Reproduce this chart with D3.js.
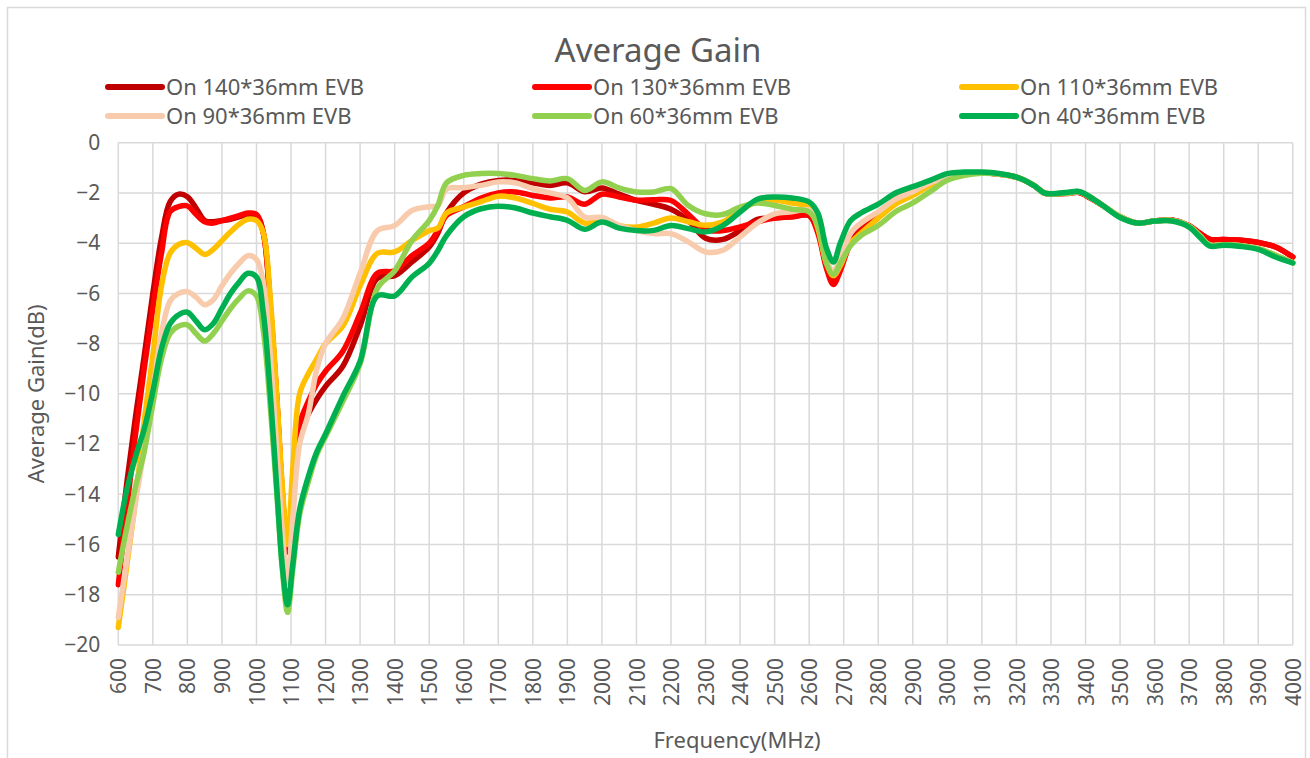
<!DOCTYPE html>
<html>
<head>
<meta charset="utf-8">
<script src="https://cdn.jsdelivr.net/npm/d3@7"></script>
<style>
  body { margin: 0; background: #fff; }
  svg text { font-family: "Noto Sans", "Noto Sans CJK SC", sans-serif; fill: #595959; }
</style>
</head>
<body>
<svg id="chart" width="1310" height="758"></svg>
<script>
// frequencies (MHz) the curves were read at
var freqs = [600, 625, 650, 675, 700, 725, 750, 775, 800, 825, 850, 875, 900, 925, 950, 975,
  1000, 1020, 1040, 1060, 1075, 1090, 1105, 1125, 1150, 1175, 1200, 1250, 1300, 1350, 1400, 1450,
  1500, 1525, 1550, 1600, 1650, 1700, 1750, 1800, 1850, 1900, 1950, 2000, 2050, 2100, 2150, 2200,
  2250, 2300, 2350, 2400, 2450, 2500, 2550, 2600, 2625, 2650, 2670, 2690, 2720, 2750, 2800, 2850,
  2900, 2950, 3000, 3050, 3100, 3150, 3200, 3250, 3280, 3300, 3350, 3380, 3400, 3450, 3500, 3550,
  3600, 3650, 3700, 3730, 3760, 3800, 3850, 3900, 3950, 4000];

var evb140 = [-16.5, -13.5, -10.9, -8.5, -6.0, -3.8, -2.35, -2.05, -2.15, -2.6, -3.1, -3.15, -3.1, -3.05, -2.95, -2.85,
  -2.9, -3.6, -6.5, -10.5, -14.0, -16.3, -14.5, -11.5, -10.8, -10.2, -9.7, -8.9, -7.3, -5.4, -5.3, -4.75,
  -4.15, -3.6, -2.8, -2.0, -1.65, -1.5, -1.5, -1.6, -1.7, -1.6, -1.95, -1.8, -2.05, -2.3, -2.45, -2.65,
  -3.1, -3.8, -3.85, -3.5, -3.05, -3.0, -2.95, -2.9, -3.5, -4.9, -5.5, -5.0, -3.95, -3.45, -2.8, -2.25,
  -1.9, -1.55, -1.38, -1.22, -1.2, -1.25, -1.37, -1.7, -2.0, -2.03, -2.0, -1.97, -2.08, -2.5, -2.95, -3.2,
  -3.12, -3.08, -3.3, -3.6, -3.85, -3.85, -3.88, -3.97, -4.15, -4.55];

var evb130 = [-17.6, -14.5, -11.6, -9.0, -6.6, -4.4, -2.75, -2.55, -2.52, -2.85, -3.15, -3.2, -3.1, -3.0, -2.9, -2.8,
  -2.85, -3.6, -6.5, -10.5, -14.0, -16.2, -14.0, -11.2, -10.3, -9.6, -9.1, -8.3, -6.8, -5.2, -5.1, -4.5,
  -4.0, -3.5, -2.9, -2.55, -2.2, -2.0, -1.96, -2.1, -2.2, -2.16, -2.45, -2.05, -2.16, -2.29, -2.27, -2.3,
  -2.85, -3.45, -3.5, -3.35, -3.15, -3.0, -2.95, -2.9, -3.6, -5.0, -5.65, -5.1, -4.0, -3.5, -2.85, -2.3,
  -1.95, -1.6, -1.38, -1.22, -1.2, -1.25, -1.37, -1.7, -2.0, -2.05, -2.02, -1.98, -2.1, -2.5, -2.95, -3.2,
  -3.12, -3.08, -3.3, -3.6, -3.85, -3.85, -3.88, -3.97, -4.15, -4.55];

var evb110 = [-19.3, -16.8, -14.2, -11.1, -8.5, -5.7, -4.4, -4.05, -3.98, -4.2, -4.45, -4.25, -3.9, -3.55, -3.25, -3.05,
  -3.1, -3.6, -6.2, -10.3, -13.7, -16.0, -13.0, -10.0, -9.2, -8.6, -8.0, -7.3, -5.7, -4.4, -4.35, -3.9,
  -3.5, -3.4, -2.8, -2.56, -2.35, -2.13, -2.2, -2.42, -2.65, -2.76, -3.2, -3.09, -3.3, -3.36, -3.2, -3.0,
  -3.15, -3.29, -3.15, -2.69, -2.35, -2.29, -2.4, -2.56, -3.4, -4.8, -5.3, -4.9, -4.0, -3.6, -3.0, -2.45,
  -2.1, -1.7, -1.42, -1.24, -1.2, -1.25, -1.37, -1.7, -2.0, -2.03, -2.0, -1.95, -2.06, -2.5, -2.95, -3.2,
  -3.12, -3.1, -3.33, -3.7, -4.08, -4.06, -4.1, -4.22, -4.48, -4.78];

var evb90 = [-18.9, -16.6, -14.3, -12.2, -9.9, -7.6, -6.3, -6.0, -5.93, -6.15, -6.45, -6.25, -5.7, -5.2, -4.8, -4.5,
  -4.65, -5.6, -8.5, -12.5, -15.5, -17.5, -15.0, -12.0, -10.8, -9.0, -8.0, -7.0, -5.2, -3.5, -3.3, -2.7,
  -2.55, -2.5, -1.85, -1.79, -1.7, -1.56, -1.6, -1.83, -2.0, -2.2, -2.96, -2.98, -3.29, -3.5, -3.62, -3.62,
  -3.95, -4.35, -4.28, -3.75, -3.2, -2.83, -2.75, -2.69, -3.3, -4.7, -5.1, -4.6, -3.6, -3.2, -2.75, -2.25,
  -1.95, -1.6, -1.4, -1.23, -1.2, -1.25, -1.37, -1.7, -2.0, -2.03, -2.0, -1.95, -2.06, -2.5, -2.95, -3.2,
  -3.12, -3.1, -3.33, -3.7, -4.08, -4.06, -4.1, -4.22, -4.48, -4.78];

var evb60 = [-17.1, -15.3, -13.7, -12.3, -10.4, -8.6, -7.6, -7.3, -7.25, -7.6, -7.9, -7.6, -7.1, -6.6, -6.2, -5.9,
  -6.1, -7.5, -10.5, -14.2, -17.0, -18.7, -17.0, -14.8, -13.5, -12.4, -11.7, -10.3, -8.8, -5.8, -5.1, -3.9,
  -3.1, -2.5, -1.6, -1.3, -1.23, -1.23, -1.3, -1.43, -1.52, -1.43, -1.9, -1.56, -1.8, -1.96, -1.96, -1.83,
  -2.5, -2.83, -2.86, -2.56, -2.4, -2.5, -2.65, -2.76, -3.3, -4.8, -5.25, -4.8, -4.1, -3.7, -3.3, -2.75,
  -2.4, -1.95, -1.5, -1.3, -1.22, -1.25, -1.37, -1.7, -2.0, -2.03, -2.0, -1.95, -2.06, -2.5, -2.95, -3.2,
  -3.12, -3.1, -3.33, -3.7, -4.08, -4.06, -4.1, -4.22, -4.48, -4.78];

var evb40 = [-15.6, -13.8, -12.5, -11.4, -9.9, -8.2, -7.2, -6.85, -6.75, -7.1, -7.45, -7.2, -6.6, -6.0, -5.55, -5.2,
  -5.35, -6.8, -10.0, -14.0, -16.9, -18.4, -16.8, -14.6, -13.3, -12.3, -11.6, -10.1, -8.7, -6.1, -6.1, -5.35,
  -4.8, -4.3, -3.7, -2.95, -2.63, -2.53, -2.6, -2.8, -2.95, -3.09, -3.45, -3.16, -3.4, -3.5, -3.49, -3.3,
  -3.42, -3.55, -3.3, -2.76, -2.25, -2.16, -2.2, -2.36, -2.8, -4.2, -4.75, -4.0, -3.1, -2.8, -2.45, -2.0,
  -1.75, -1.5, -1.23, -1.17, -1.17, -1.23, -1.37, -1.7, -2.0, -2.03, -1.97, -1.94, -2.05, -2.5, -2.98, -3.2,
  -3.12, -3.12, -3.36, -3.75, -4.12, -4.08, -4.13, -4.25, -4.55, -4.79];

var seriesNames = ["On 140*36mm EVB", "On 130*36mm EVB", "On 110*36mm EVB",
  "On 90*36mm EVB", "On 60*36mm EVB", "On 40*36mm EVB"];
var seriesValues = [evb140, evb130, evb110, evb90, evb60, evb40];
var seriesColors = ["#C00000", "#FF0000", "#FFC000", "#F8CBAD", "#92D050", "#00B050"];

var xTicks = d3.range(600, 4001, 100);
var yTicks = d3.range(0, -21, -2);

var svg = d3.select("#chart");

// outer chart frame
svg.append("rect")
  .attr("x", 7.5).attr("y", 7.5)
  .attr("width", 1298).attr("height", 770)
  .attr("fill", "none")
  .attr("stroke", "#d9d9d9")
  .attr("stroke-width", 1.5);

var plotLeft = 118.3, plotRight = 1292.8, plotTop = 142.7, plotBottom = 645;

var x = d3.scaleLinear().domain([600, 4000]).range([plotLeft, plotRight]);
var y = d3.scaleLinear().domain([-20, 0]).range([plotBottom, plotTop]);

// grid
svg.append("g").selectAll("line")
  .data(xTicks)
  .enter()
  .append("line")
  .attr("x1", d => x(d)).attr("x2", d => x(d))
  .attr("y1", plotTop).attr("y2", plotBottom)
  .attr("stroke", "#d9d9d9")
  .attr("stroke-width", 1.5);

svg.append("g").selectAll("line")
  .data(yTicks)
  .enter()
  .append("line")
  .attr("x1", plotLeft).attr("x2", plotRight)
  .attr("y1", d => y(d)).attr("y2", d => y(d))
  .attr("stroke", "#d9d9d9")
  .attr("stroke-width", 1.5);

// axes (labels only, Excel style)
var yAxis = svg.append("g")
  .attr("transform", "translate(" + (plotLeft - 18) + ",0)")
  .call(d3.axisLeft(y).tickValues(yTicks).tickSize(0).tickPadding(0));
yAxis.select(".domain").remove();
yAxis.selectAll("text")
  .attr("font-size", 21)
  .attr("fill", "#595959")
  .attr("font-family", "'Noto Sans', sans-serif");

var xAxis = svg.append("g")
  .attr("transform", "translate(0," + plotBottom + ")")
  .call(d3.axisBottom(x).tickValues(xTicks).tickSize(0).tickFormat(d3.format("d")));
xAxis.select(".domain").remove();
xAxis.selectAll("text")
  .attr("font-size", 21)
  .attr("fill", "#595959")
  .attr("font-family", "'Noto Sans', sans-serif")
  .attr("text-anchor", "end")
  .attr("transform", "rotate(-90)")
  .attr("x", -13)
  .attr("y", 0)
  .attr("dy", "0.36em");

// series lines
var line = d3.line()
  .x((d, i) => x(freqs[i]))
  .y(d => y(d))
  .curve(d3.curveCatmullRom.alpha(0.5));

svg.append("g").selectAll("path")
  .data(seriesValues)
  .enter()
  .append("path")
  .attr("d", d => line(d))
  .attr("fill", "none")
  .attr("stroke", (d, i) => seriesColors[i])
  .attr("stroke-width", 5.5)
  .attr("stroke-linejoin", "round")
  .attr("stroke-linecap", "round");

// title
svg.append("text")
  .attr("x", 658).attr("y", 62)
  .attr("text-anchor", "middle")
  .attr("font-size", 33)
  .text("Average Gain");

// legend
var legendCols = [108, 535, 962];
var legendRows = [87, 116];
var legend = svg.append("g").selectAll("g")
  .data(seriesNames)
  .enter()
  .append("g")
  .attr("transform", (d, i) => "translate(" + legendCols[i % 3] + "," + legendRows[Math.floor(i / 3)] + ")");

legend.append("line")
  .attr("x1", 0).attr("x2", 54)
  .attr("y1", 0).attr("y2", 0)
  .attr("stroke", (d, i) => seriesColors[i])
  .attr("stroke-width", 6)
  .attr("stroke-linecap", "round");

legend.append("text")
  .attr("x", 58).attr("y", 0)
  .attr("dy", "0.36em")
  .attr("font-size", 22)
  .text(d => d);

// axis titles
svg.append("text")
  .attr("x", 737).attr("y", 748)
  .attr("text-anchor", "middle")
  .attr("font-size", 22)
  .text("Frequency(MHz)");

svg.append("text")
  .attr("transform", "translate(44," + (plotTop + plotBottom) / 2 + ") rotate(-90)")
  .attr("text-anchor", "middle")
  .attr("font-size", 22)
  .text("Average Gain(dB)");
</script>
</body>
</html>
